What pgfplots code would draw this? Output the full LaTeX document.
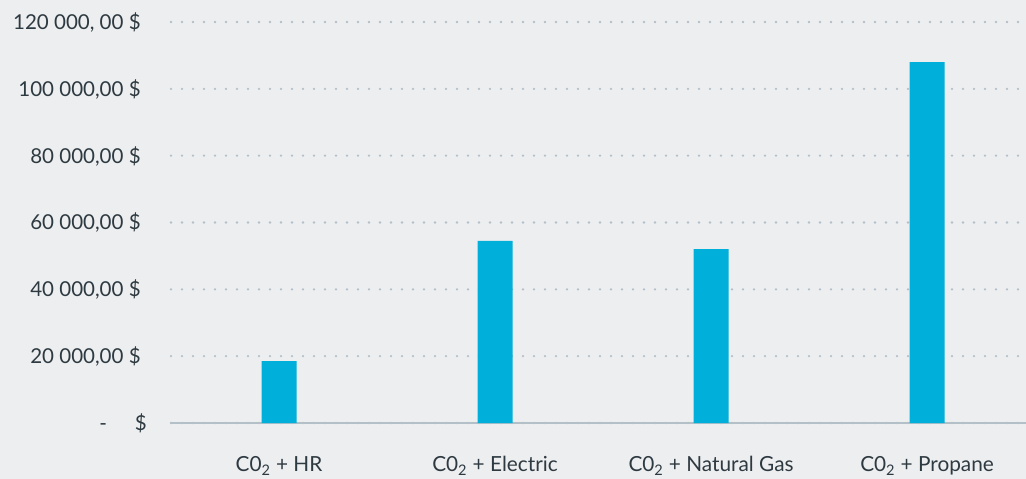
\documentclass[border=0pt]{standalone}
\usepackage{pgfplots}
\pgfplotsset{compat=1.18}
\usepackage{fontspec}
\setmainfont{Lato}
\definecolor{bg}{HTML}{EDEEF0}
\definecolor{barc}{HTML}{00B0DA}
\definecolor{gridc}{HTML}{B3BFC8}
\definecolor{axc}{HTML}{B3C0C8}
\definecolor{txt}{HTML}{2E3A41}
\begin{document}
\begin{tikzpicture}
\fill[bg] (-128.25pt,-42pt) rectangle (641.25pt,317.25pt);
\path[use as bounding box] (-128.25pt,-42pt) rectangle (641.25pt,317.25pt);
\begin{axis}[
  at={(0pt,0pt)}, anchor=south west,
  scale only axis, width=641.25pt, height=300.75pt,
  xmin=-0.5, xmax=3.458, ymin=0, ymax=120000,
  scaled y ticks=false,
  ybar, bar width=26.25pt, bar shift=0pt,
  axis x line*=bottom, axis y line*=left,
  y axis line style={draw=none},
  x axis line style={draw=axc, line width=1.7pt},
  major tick length=0pt, tick style={draw=none},
  ymajorgrids, grid style={draw=gridc, line width=1.9pt, line cap=round, dash pattern=on 0pt off 8.25pt},
  xtick={0,1,2,3},
  xticklabels={C0\textsubscript{2} + HR, C0\textsubscript{2} + Electric, C0\textsubscript{2} + Natural Gas, C0\textsubscript{2} + Propane},
  ytick={0,20000,40000,60000,80000,100000,120000},
  yticklabels={{-\hspace{1.35em}\$\kern-4.5pt},{20 000,00 \$},{40 000,00 \$},{60 000,00 \$},{80 000,00 \$},{100 000,00 \$},{120 000, 00 \$}},
  yticklabel style={font=\fontsize{15.4pt}{18pt}\selectfont, text=txt, inner sep=0pt, anchor=base east, xshift=-22.5pt, yshift=-5.5pt},
  xticklabel style={font=\fontsize{15.6pt}{18pt}\selectfont, text=txt, inner sep=0pt, anchor=base, yshift=-36.5pt},
  clip=false,
]
\addplot[fill=barc, draw=none] coordinates {(0,18500) (1,54500) (2,52000) (3,108000)};
\end{axis}
\end{tikzpicture}
\end{document}
